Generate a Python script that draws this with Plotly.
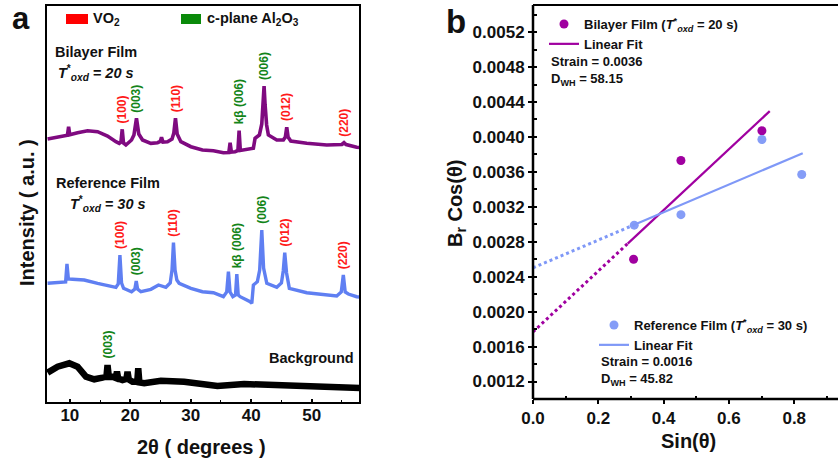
import numpy as np
import plotly.graph_objects as go

W, H = 838, 463
FONT = "Liberation Sans, Arial, sans-serif"

# ---------------- Panel (a): XRD patterns ----------------
# Bilayer film (T*oxd = 20 s), offset trace
bilayer_2theta = [6.31, 7.97, 9.60, 9.79, 9.98, 11.27, 12.93, 14.58, 16.23, 17.62, 18.17, 18.45,
                  18.66, 18.87, 19.27, 20.2, 20.6, 21.02, 21.4, 22.02, 23.4, 24.5, 24.95, 25.16,
                  25.4, 26.15, 26.9, 27.2, 27.47, 27.75, 28.36, 30.02, 31.93, 33.75, 35.4, 36.3,
                  36.51, 36.72, 37.34, 37.8, 38.0, 38.2, 38.71, 40.36, 40.64, 41.36, 41.75, 42.0,
                  42.13, 42.3, 42.55, 42.84, 44.23, 45.32, 45.65, 45.88, 46.1, 46.55, 49.19, 52.5,
                  55.0, 55.36, 55.7, 57.45, 58.0]
bilayer_int = [2640, 2657, 2678, 2763, 2682, 2703, 2723, 2713, 2670, 2613, 2597, 2610,
               2737, 2600, 2580, 2630, 2680, 2847, 2690, 2630, 2597, 2603, 2615, 2657,
               2610, 2613, 2640, 2700, 2847, 2690, 2613, 2563, 2530, 2523, 2503, 2505,
               2603, 2510, 2513, 2525, 2723, 2525, 2530, 2547, 2647, 2680, 2790, 3000,
               3170, 2980, 2780, 2680, 2630, 2630, 2660, 2757, 2660, 2620, 2597, 2580,
               2585, 2603, 2585, 2557, 2555]

# Reference film (T*oxd = 30 s)
reference_2theta = [6.31, 8.53, 9.30, 9.52, 9.75, 10.45, 12.38, 14.58, 16.79, 17.62, 18.0, 18.28,
                    18.55, 18.88, 20.2, 20.75, 20.98, 21.2, 21.75, 23.4, 24.66, 25.88, 26.6, 26.9,
                    27.14, 27.4, 27.7, 28.08, 30.02, 31.93, 33.75, 35.4, 35.95, 36.23, 36.5, 36.96,
                    37.4, 37.62, 37.85, 38.17, 39.82, 40.1, 40.36, 41.02, 41.4, 41.75, 42.05, 42.58,
                    44.23, 45.0, 45.3, 45.55, 45.85, 46.31, 49.19, 52.5, 54.15, 54.9, 55.24, 55.55,
                    56.07, 57.45, 58.0]
reference_int = [1197, 1213, 1210, 1390, 1240, 1237, 1230, 1197, 1163, 1157, 1190, 1480,
                 1200, 1147, 1113, 1140, 1220, 1140, 1113, 1137, 1180, 1157, 1200, 1330,
                 1603, 1330, 1230, 1197, 1147, 1113, 1103, 1063, 1110, 1313, 1110, 1063,
                 1080, 1290, 1080, 1063, 1013, 997, 1180, 1213, 1330, 1730, 1350, 1197,
                 1157, 1200, 1320, 1503, 1300, 1147, 1103, 1080, 1070, 1110, 1280, 1110,
                 1090, 1063, 1060]

# Bare substrate background
background_2theta = [6.31, 7.97, 9.9, 11.27, 12.66, 14.03, 15.4, 16.05, 16.23, 16.45, 17.06, 17.6,
                     17.79, 18.0, 18.71, 19.35, 19.54, 19.75, 20.36, 21.15, 21.31, 21.5, 22.3,
                     25.06, 28.91, 31.67, 34.41, 38.83, 43.24, 47.64, 52.6, 57.55, 58.0]
background_int = [303, 363, 397, 363, 263, 237, 253, 265, 380, 262, 263, 250,
                  313, 245, 230, 240, 313, 235, 213, 215, 347, 205, 197,
                  223, 213, 197, 170, 190, 180, 170, 163, 147, 150]

# Indexed reflections (label, 2theta, phase)
bilayer_peaks = [("(100)", 18.66, "VO2"), ("(003)", 21.02, "Al2O3"), ("(110)", 27.47, "VO2"),
                 ("kβ (006)", 38.0, "Al2O3"), ("(006)", 42.13, "Al2O3"), ("(012)", 45.88, "VO2"),
                 ("(220)", 55.36, "VO2")]
reference_peaks = [("(100)", 18.28, "VO2"), ("(003)", 20.98, "Al2O3"), ("(110)", 27.14, "VO2"),
                   ("kβ (006)", 37.62, "Al2O3"), ("(006)", 41.75, "Al2O3"), ("(012)", 45.55, "VO2"),
                   ("(220)", 55.24, "VO2")]
background_peaks = [("(003)", 16.23, "Al2O3")]

# ---------------- Panel (b): Williamson-Hall ----------------
bilayer_sin = [0.308, 0.453, 0.701]
bilayer_bcos = [0.00260, 0.00373, 0.00407]
reference_sin = [0.310, 0.453, 0.701, 0.823]
reference_bcos = [0.00299, 0.00311, 0.00397, 0.00357]
bilayer_fit_span = [0.29, 0.725]
reference_fit_span = [0.31, 0.826]

PURPLE_A = "#7f0a80"
BLUE_A = "#5f7ff2"
PURPLE_B = "#a000a0"
BLUE_B = "#7f98f7"
BLUE_PT = "#859df7"
RED = "#ff1a1a"
GREEN = "#14851a"
phase_color = {"VO2": RED, "Al2O3": GREEN}

fig = go.Figure()

for xs, ys, col, wid in [(bilayer_2theta, bilayer_int, PURPLE_A, 3.6),
                         (reference_2theta, reference_int, BLUE_A, 3.4),
                         (background_2theta, background_int, "#000000", 6.5)]:
    fig.add_trace(go.Scatter(x=xs, y=ys, mode="lines", line=dict(color=col, width=wid),
                             xaxis="x", yaxis="y", showlegend=False, hoverinfo="skip"))

annotations = []
for peaks, xs, ys in [(bilayer_peaks, bilayer_2theta, bilayer_int),
                      (reference_peaks, reference_2theta, reference_int),
                      (background_peaks, background_2theta, background_int)]:
    for label, pos, phase in peaks:
        top = float(np.interp(pos, xs, ys))
        annotations.append(dict(x=pos, y=top, xref="x", yref="y", text=label, textangle=-90,
                                showarrow=False, xanchor="center", yanchor="bottom", yshift=4,
                                font=dict(size=12, color=phase_color[phase], family=FONT, weight="bold")))


# Williamson-Hall fits
def add_fit(sx, sy, span, color, name, legend, pt_color):
    slope, icpt = np.polyfit(sx, sy, 1)
    fig.add_trace(go.Scatter(x=sx, y=sy, mode="markers", name=name, legend=legend,
                             marker=dict(color=pt_color, size=9), xaxis="x2", yaxis="y2"))
    xs = np.array(span)
    fig.add_trace(go.Scatter(x=xs, y=slope * xs + icpt, mode="lines", name="Linear Fit", legend=legend,
                             line=dict(color=color, width=2.2), xaxis="x2", yaxis="y2"))
    xd = np.array([0.0, span[0]])
    fig.add_trace(go.Scatter(x=xd, y=slope * xd + icpt, mode="lines", showlegend=False,
                             line=dict(color=color, width=3, dash="dot"), xaxis="x2", yaxis="y2"))


add_fit(bilayer_sin, bilayer_bcos, bilayer_fit_span, PURPLE_B,
        "Bilayer Film (<i>T</i><sup>*</sup><sub><i>oxd</i></sub> = 20 s)", "legend", PURPLE_B)
add_fit(reference_sin, reference_bcos, reference_fit_span, BLUE_B,
        "Reference Film (<i>T</i><sup>*</sup><sub><i>oxd</i></sub> = 30 s)", "legend2", BLUE_PT)


def px(x):
    return x / W


def py(y):
    return 1 - y / H


def text(x, y, s, size=14.5, xanchor="left", angle=0, color="#111111"):
    annotations.append(dict(x=px(x), y=py(y), xref="paper", yref="paper", text=s, showarrow=False,
                            xanchor=xanchor, yanchor="middle", textangle=angle,
                            font=dict(size=size, color=color, family=FONT, weight="bold")))


# panel (a) texts
text(21, 18, "a", size=31, xanchor="center")
text(91, 19, "VO<sub>2</sub>")
text(205, 19, "c-plane Al<sub>2</sub>O<sub>3</sub>")
text(53, 52, "Bilayer Film")
text(56, 73, "<i>T</i><sup>*</sup><sub><i>oxd</i></sub><i> = 20 s</i>")
text(54, 183, "Reference Film")
text(68, 204, "<i>T</i><sup>*</sup><sub><i>oxd</i></sub><i> = 30 s</i>")
text(356, 358, "Background", xanchor="right")
text(201, 447, "2θ ( degrees )", size=20, xanchor="center")
text(27, 213, "Intensity ( a.u. )", size=20, xanchor="center", angle=-90)

# panel (b) texts
text(456, 21, "b", size=33, xanchor="center")
text(549, 61, "Strain = 0.0036", size=13)
text(549, 79, "D<sub>WH</sub> = 58.15", size=13)
text(599, 361, "Strain = 0.0016", size=13)
text(599, 379, "D<sub>WH</sub> = 45.82", size=13)
text(688, 441, "Sin(θ)", size=20, xanchor="center")
text(457, 204, "B<sub>r</sub> Cos(θ)", size=20, xanchor="center", angle=-90)

frame = dict(color="black", width=2)
shapes = [
    # legend swatches of panel (a)
    dict(type="rect", xref="paper", yref="paper", x0=px(66), x1=px(88), y0=py(24), y1=py(14),
         fillcolor="#ff0000", line=dict(width=0)),
    dict(type="rect", xref="paper", yref="paper", x0=px(181), x1=px(201), y0=py(24), y1=py(14),
         fillcolor="#0a8a0a", line=dict(width=0)),
    # closed frame around panel (a)
    dict(type="rect", xref="x domain", yref="y domain", x0=0, x1=1, y0=0, y1=1,
         line=frame, layer="above"),
    # left / bottom / top edges of panel (b)
    dict(type="line", xref="x2 domain", yref="y2 domain", x0=0, x1=0, y0=0, y1=1,
         line=dict(color="black", width=2.5), layer="above"),
    dict(type="line", xref="x2 domain", yref="y2 domain", x0=0, x1=1, y0=0, y1=0,
         line=dict(color="black", width=2.5), layer="above"),
    dict(type="line", xref="x2 domain", yref="y2 domain", x0=0, x1=1, y0=1, y1=1,
         line=dict(color="black", width=2), layer="above"),
]

axis_font = dict(size=17, family=FONT, color="#111111", weight="bold")

fig.update_layout(
    template="none",
    width=W, height=H, margin=dict(l=0, r=0, t=0, b=0, pad=0),
    paper_bgcolor="white", plot_bgcolor="white",
    font=dict(family=FONT, weight="bold", color="#111111"),
    xaxis=dict(domain=[px(46), px(360)], range=[6.05, 58.0], anchor="y", automargin=False,
               showline=False, tickmode="linear", tick0=0, dtick=10,
               ticks="inside", ticklen=4, tickwidth=1.5, tickcolor="black",
               minor=dict(tick0=5, dtick=10, ticks="inside", ticklen=3, tickwidth=1.2, tickcolor="black"),
               tickfont=axis_font, showgrid=False, zeroline=False),
    yaxis=dict(domain=[py(403), py(5)], range=[0, 3980], anchor="x", automargin=False,
               showline=False, showticklabels=False, ticks="", showgrid=False, zeroline=False),
    xaxis2=dict(domain=[px(533), 1.0], range=[0, 0.934], anchor="y2", automargin=False,
                showline=False, tickmode="linear", tick0=0, dtick=0.2, tickformat=".1f",
                ticks="outside", ticklen=4, tickwidth=1.5, tickcolor="black",
                minor=dict(tick0=0.1, dtick=0.2, ticks="inside", ticklen=3, tickwidth=1.5, tickcolor="black"),
                tickfont=axis_font, showgrid=False, zeroline=False),
    yaxis2=dict(domain=[py(399), py(5)], range=[0.001, 0.00551], anchor="x2", automargin=False,
                showline=False, tickmode="linear", tick0=0.0012, dtick=0.0004,
                tickformat=".4f", ticks="outside", ticklen=4, tickwidth=1.5, tickcolor="black",
                minor=dict(tick0=0.0010, dtick=0.0002, ticks="inside", ticklen=4, tickwidth=1.5, tickcolor="black"),
                tickfont=axis_font, showgrid=False, zeroline=False),
    legend=dict(x=px(544), y=py(9), xanchor="left", yanchor="top", bgcolor="rgba(0,0,0,0)",
                font=dict(size=13, family=FONT, weight="bold", color="#111111"),
                itemwidth=30, tracegroupgap=0, borderwidth=0),
    legend2=dict(x=px(594), y=py(310), xanchor="left", yanchor="top", bgcolor="rgba(0,0,0,0)",
                 font=dict(size=13, family=FONT, weight="bold", color="#111111"),
                 itemwidth=30, tracegroupgap=0, borderwidth=0),
    annotations=annotations, shapes=shapes,
)

fig.write_html("out.html")
